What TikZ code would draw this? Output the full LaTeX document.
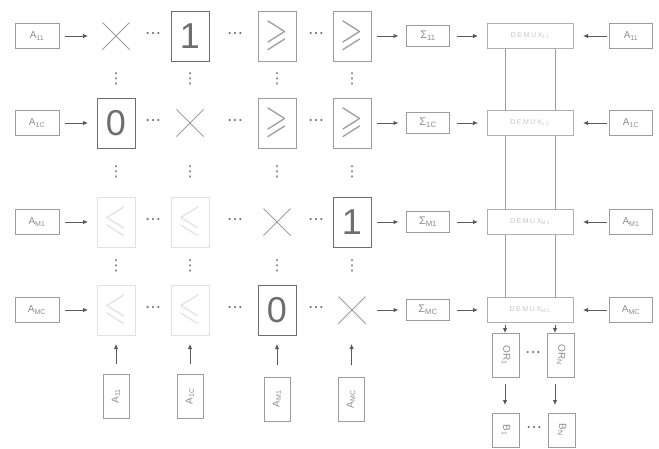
\documentclass[tikz,border=0pt]{standalone}
\usepackage{amssymb}
\usepackage{graphicx}
\usepackage{fontspec}
\setmainfont{Liberation Sans}
\newfontfamily\spacedfont[LetterSpace=22]{Liberation Sans}
\newfontfamily\dotfont{DejaVu Sans}
\usetikzlibrary{arrows.meta,shapes.misc}
\definecolor{ln}{HTML}{9C9C9C}
\definecolor{tx}{HTML}{8C8C8C}
\definecolor{dk}{HTML}{6E6E6E}
\definecolor{ar}{HTML}{5A5A5A}
\definecolor{fd}{HTML}{E2E2E2}
\definecolor{dm}{HTML}{C4C4C4}
\begin{document}
\begin{tikzpicture}[x=1pt,y=-1pt,
  every node/.style={inner sep=0pt,outer sep=0pt},
  lbox/.style={draw=ln,line width=0.8pt,minimum width=44pt,minimum height=25pt,text=tx,font=\fontsize{10}{10}\selectfont},
  sbox/.style={draw=ln,line width=0.8pt,minimum width=43pt,minimum height=21pt,text=tx,font=\fontsize{11}{11}\selectfont},
  dbox/.style={draw=ln!80,line width=0.8pt,minimum width=86pt,minimum height=25pt,text=dm,font=\spacedfont\fontsize{7}{7}\selectfont},
  vbox/.style={draw=ln,line width=0.8pt,minimum width=26pt,minimum height=44pt,text=tx,font=\fontsize{10}{10}\selectfont},
  cell/.style={minimum width=38pt,minimum height=50pt},
  bcell/.style={cell,draw=dk,line width=0.9pt,text=dk,font=\fontsize{36}{36}\selectfont},
  gcell/.style={cell,draw=ln,line width=0.9pt,text=ln},
  fcell/.style={cell,draw=fd,line width=0.8pt,text=fd},
  xmark/.style={cross out,draw=ln,line width=1pt,minimum width=27pt,minimum height=27pt},
  arr/.style={draw=ar,line width=0.8pt,-{Latex[length=5pt,width=4.5pt]}},
  conn/.style={draw=ln,line width=0.8pt},
  hd/.style={text=dk,font=\dotfont\fontsize{16}{16}\selectfont},
  vd/.style={text=dk,font=\dotfont\fontsize{15}{15}\selectfont}
]
\useasboundingbox (0,0) rectangle (659,448);
\newcommand\geqs{\scalebox{2.9}[3.9]{$\geqslant$}}
\newcommand\leqs{\scalebox{2.9}[3.9]{$\leqslant$}}
% left inputs
\node[lbox] (a1) at (37,36) {A\textsubscript{11}};
\node[lbox] (a2) at (37,123) {A\textsubscript{1C}};
\node[lbox] (a3) at (37,222) {A\textsubscript{M1}};
\node[lbox] (a4) at (37,310) {A\textsubscript{MC}};
% matrix cells
\node[cell] (c11) at (116,36) {};
\node[xmark] (x11) at (c11) {};
\node[bcell] (c12) at (190,36) {1};
\node[gcell] (c13) at (277,36) {\geqs};
\node[gcell] (c14) at (352,36) {\geqs};
\node[bcell] (c21) at (116,123) {0};
\node[cell] (c22) at (190,123) {};
\node[xmark] (x22) at (c22) {};
\node[gcell] (c23) at (277,123) {\geqs};
\node[gcell] (c24) at (352,123) {\geqs};
\node[fcell] (c31) at (116,222) {\leqs};
\node[fcell] (c32) at (190,222) {\leqs};
\node[cell] (c33) at (277,222) {};
\node[xmark] (x33) at (c33) {};
\node[bcell] (c34) at (352,222) {1};
\node[fcell] (c41) at (116,310) {\leqs};
\node[fcell] (c42) at (190,310) {\leqs};
\node[bcell] (c43) at (277,310) {0};
\node[cell] (c44) at (352,310) {};
\node[xmark] (x44) at (c44) {};
% horizontal dots
\foreach \r/\y in {1/36,2/123,3/222,4/310}{
  \node[hd] (h\r a) at (153,\y) {⋯};
  \node[hd] (h\r b) at (235,\y) {⋯};
  \node[hd] (h\r c) at (316,\y) {⋯};
}
% vertical dots
\foreach \g/\y in {1/79,2/172,3/266}{
  \foreach \c/\x in {1/116,2/190,3/277,4/352}{
    \node[vd] (v\g\c) at (\x,\y) {⋮};
  }
}
% sums
\node[sbox] (s1) at (428,36) {Σ\textsubscript{11}};
\node[sbox] (s2) at (428,123) {Σ\textsubscript{1C}};
\node[sbox] (s3) at (428,222) {Σ\textsubscript{M1}};
\node[sbox] (s4) at (428,310) {Σ\textsubscript{MC}};
% demux
\node[dbox] (d1) at (530,36) {DEMUX\textsubscript{11}};
\node[dbox] (d2) at (530,123) {DEMUX\textsubscript{1C}};
\node[dbox] (d3) at (530,222) {DEMUX\textsubscript{M1}};
\node[dbox] (d4) at (530,310) {DEMUX\textsubscript{MC}};
% right inputs
\node[lbox,minimum width=43pt] (r1) at (631,36) {A\textsubscript{11}};
\node[lbox,minimum width=43pt] (r2) at (631,123) {A\textsubscript{1C}};
\node[lbox,minimum width=43pt] (r3) at (631,222) {A\textsubscript{M1}};
\node[lbox,minimum width=43pt] (r4) at (631,310) {A\textsubscript{MC}};
% bottom inputs
\node[vbox] (b1) at (116,396) {\rotatebox{90}{A\textsubscript{11}}};
\node[vbox] (b2) at (190,396) {\rotatebox{90}{A\textsubscript{1C}}};
\node[vbox] (b3) at (277,399) {\rotatebox{90}{A\textsubscript{M1}}};
\node[vbox] (b4) at (351,399) {\rotatebox{90}{A\textsubscript{MC}}};
% OR and B
\coordinate (l1) at (505,0);
\coordinate (l2) at (555,0);
\node[vbox,minimum width=27pt] (o1) at (506,355) {\rotatebox{-90}{OR\textsubscript{1}}};
\node[vbox,minimum width=27pt] (o2) at (561,355) {\rotatebox{-90}{OR\textsubscript{N}}};
\node[hd] (od) at (533,355) {⋯};
\node[vbox,minimum width=27pt,minimum height=34pt] (e1) at (506,430) {\rotatebox{-90}{B\textsubscript{1}}};
\node[vbox,minimum width=27pt,minimum height=34pt] (e2) at (562,430) {\rotatebox{-90}{B\textsubscript{N}}};
\node[hd] (ed) at (534,430) {⋯};
% arrows left inputs -> matrix -> sums -> demux
\foreach \r in {1,2,3,4}{
  \draw[arr,shorten <=6pt,shorten >=9pt] (a\r) -- (c\r1);
  \draw[arr,shorten <=6pt,shorten >=8pt] (c\r4) -- (s\r);
  \draw[arr,shorten <=7pt,shorten >=9pt] (s\r) -- (d\r);
  \draw[arr,shorten <=3pt,shorten >=10pt] (r\r) -- (d\r);
}
% bottom arrows
\draw[arr,shorten <=10pt,shorten >=9pt] (b1) -- (c41);
\draw[arr,shorten <=10pt,shorten >=9pt] (b2) -- (c42);
\draw[arr,shorten <=12pt,shorten >=9pt] (b3) -- (c43);
\draw[arr,shorten <=12pt,shorten >=9pt] (b4) -- (c44);
% demux bus lines
\foreach \a/\b in {d1/d2,d2/d3,d3/d4}{
  \draw[conn] (\a.south -| l1) -- (\b.north -| l1);
  \draw[conn] (\a.south -| l2) -- (\b.north -| l2);
}
\draw[arr,shorten <=2pt] (d4.south -| l1) -- (o1.north -| l1);
\draw[arr,shorten <=2pt] (d4.south -| l2) -- (o2.north -| l2);
\draw[arr,shorten <=7pt,shorten >=8pt] (o1.south -| l1) -- (e1.north -| l1);
\draw[arr,shorten <=7pt,shorten >=8pt] (o2.south -| l2) -- (e2.north -| l2);
\end{tikzpicture}
\end{document}
